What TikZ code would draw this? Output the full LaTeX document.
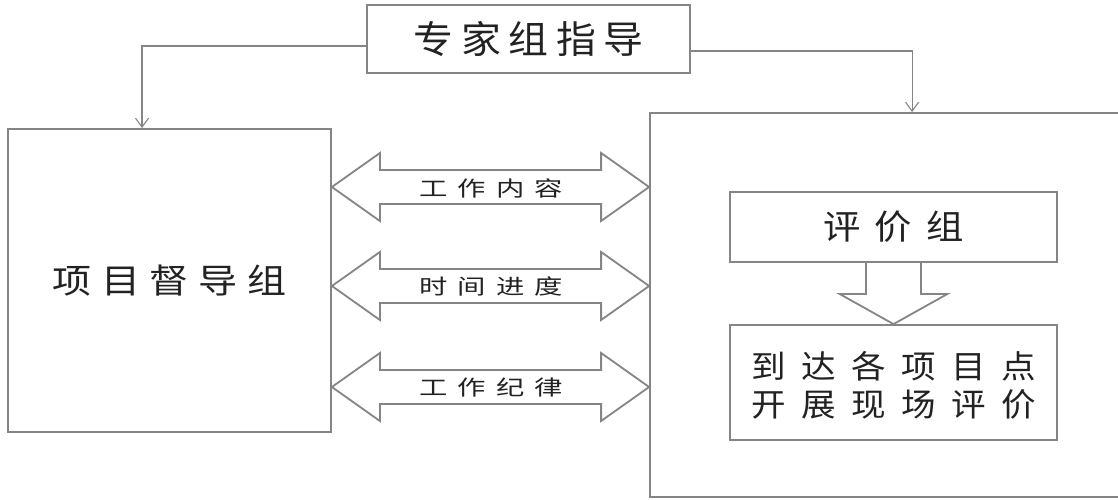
\documentclass[tikz,border=0pt]{standalone}
\usepackage{fontspec}
\newfontfamily\cjk{Noto Sans CJK SC}
\usetikzlibrary{arrows.meta,calc}
\definecolor{linegray}{HTML}{858585}
\definecolor{txtgray}{HTML}{222222}
\newcommand{\cjkt}[4]{{\cjk\fontsize{#1}{#1}\selectfont\addfontfeatures{FakeStretch=#2,LetterSpace=#3}#4}}
\begin{document}
\begin{tikzpicture}[x=1pt,y=-1pt,
  box/.style={draw=linegray,line width=1.8pt,text=txtgray,inner sep=0pt},
  conn/.style={draw=linegray,line width=1.1pt,-{Straight Barb[length=9pt,width=13pt,line width=1.1pt]}},
  blk/.style={draw=linegray,line width=1.8pt,line join=miter},
  lbl/.style={text=txtgray,inner sep=0pt}]
\clip (0,0) rectangle (1118,500);
\fill[white] (0,0) rectangle (1118,500);

\node[box,minimum width=323pt,minimum height=68pt] (top) at (528.5,39) {\cjkt{38}{1.05}{20}{专家组指导}};
\node[box,minimum width=323pt,minimum height=303pt] (lbox) at (169.5,280.5) {\cjkt{34}{1.15}{28}{项目督导组}};
\node[box,minimum width=480pt,minimum height=384pt] (rbox) at (890,305) {};
\node[box,minimum width=327pt,minimum height=70pt] (eval) at (893.5,227) {\cjkt{34}{1.1}{42}{评价组}};
\node[box,minimum width=327pt,minimum height=115pt,align=center,
  font={\cjk\fontsize{32}{38}\selectfont\addfontfeatures{FakeStretch=1.08,LetterSpace=48}}] (site) at (893.5,382.5)
  {\rule{0pt}{33pt}到达各项目点\\开展现场评价};

\draw[conn] ($(top.west)+(0,7)$) -| ($(lbox.north)+(-27.5,0)$);
\draw[conn] ($(top.east)+(0,12)$) -| ($(rbox.north west)+(263,0)$);

\node[lbl] (a1) at (491,188) {\cjkt{21}{1.35}{48}{工作内容}};
\node[lbl] (a2) at (491,286) {\cjkt{21}{1.35}{48}{时间进度}};
\node[lbl] (a3) at (491,388) {\cjkt{21}{1.35}{48}{工作纪律}};

\foreach \a/\yy in {a1/187,a2/286,a3/387}{
  \coordinate (L) at (lbox.east |- 0,\yy);
  \coordinate (R) at (rbox.west |- 0,\yy);
  \draw[blk] (L) -- ($(L)+(48,-34)$) -- ($(L)+(48,-17)$) -- ($(R)+(-48,-17)$) -- ($(R)+(-48,-34)$)
    -- (R) -- ($(R)+(-48,34)$) -- ($(R)+(-48,17)$) -- ($(L)+(48,17)$) -- ($(L)+(48,34)$) -- cycle;
}

\draw[blk] ($(eval.south)+(-27.5,0)$) -- ($(eval.south)+(-27.5,31)$) -- ($(eval.south)+(-54,31)$)
  -- (site.north) -- ($(eval.south)+(54,31)$) -- ($(eval.south)+(27.5,31)$) -- ($(eval.south)+(27.5,0)$);
\end{tikzpicture}
\end{document}
